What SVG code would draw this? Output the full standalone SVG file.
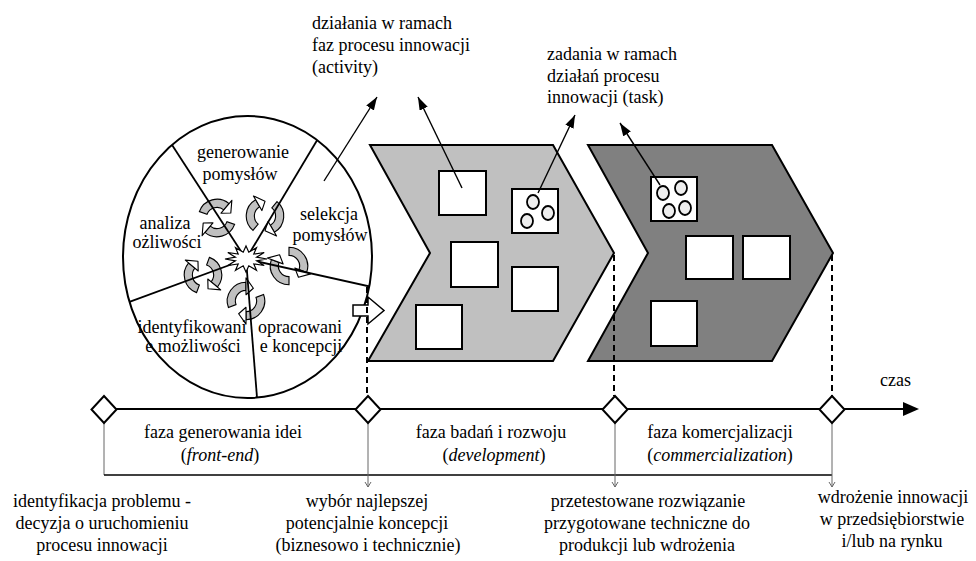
<svg xmlns="http://www.w3.org/2000/svg" width="976" height="561" viewBox="0 0 976 561" font-family="'Liberation Serif', 'DejaVu Serif', 'Times New Roman', serif">
<style>
text{font-family:"Liberation Serif","DejaVu Serif","Times New Roman",serif;font-size:18px;fill:#000}
.c{text-anchor:middle}
.it{font-style:italic}
.chev{stroke:#000;stroke-width:2;stroke-linejoin:miter}
.box{fill:#fff;stroke:#000;stroke-width:2}
.dot{fill:#eee;stroke:#000;stroke-width:1.8}
.dash{stroke:#000;stroke-width:2;stroke-dasharray:6 4;fill:none}
.arr{stroke:#000;stroke-width:1.4;fill:none;marker-end:url(#ah)}
.spoke{stroke:#000;stroke-width:1.8}
.thin{stroke:#666;stroke-width:1;fill:none}
.dia{fill:#fff;stroke:#000;stroke-width:2}
.body{fill:#c0c0c0;stroke:#000;stroke-width:0.9}
.head{fill:#fff;stroke:#000;stroke-width:0.9;stroke-linejoin:round}
</style>
<defs>
<marker id="ah" markerUnits="userSpaceOnUse" markerWidth="14" markerHeight="10" refX="13" refY="4.5" orient="auto">
<path d="M0,0 L13,4.5 L0,9 Z" fill="#000"/>
</marker>
<g id="cyc">
<path class="body" d="M-14.77,-2.6 A15,15 0 0 1 7.5,-12.99 L4.25,-7.36 A8.5,8.5 0 0 0 -8.37,-1.48 Z"/>
<path class="head" d="M9.25,-16.02 L10.18,-5.88 L2.5,-4.33 Z"/>
<path class="body" d="M14.77,2.6 A15,15 0 0 1 -7.5,12.99 L-4.25,7.36 A8.5,8.5 0 0 0 8.37,1.48 Z"/>
<path class="head" d="M-9.25,16.02 L-10.18,5.88 L-2.5,4.33 Z"/>
</g>
<clipPath id="ell"><ellipse cx="247.5" cy="257" rx="124.5" ry="141"/></clipPath>
</defs>

<g id="cycle">
<ellipse cx="247.5" cy="257" rx="124.5" ry="141" fill="#fff" stroke="#000" stroke-width="2"/>
<use href="#cyc" transform="translate(217,218) rotate(10) scale(1.25)"/>
<use href="#cyc" transform="translate(265,216) rotate(-60) scale(1.25)"/>
<use href="#cyc" transform="translate(289,266) rotate(80) scale(1.25)"/>
<use href="#cyc" transform="translate(246,301) rotate(150) scale(1.25)"/>
<use href="#cyc" transform="translate(203,275) rotate(100) scale(1.25)"/>
<g clip-path="url(#ell)">
<line class="spoke" x1="246" y1="259" x2="163" y2="131"/>
<line class="spoke" x1="246" y1="259" x2="322" y2="132"/>
<line class="spoke" x1="246" y1="259" x2="390" y2="291"/>
<line class="spoke" x1="246" y1="259" x2="258" y2="410"/>
<line class="spoke" x1="246" y1="259" x2="110" y2="309"/>
</g>
<polygon points="267,259 256.6,260.8 264.2,265.5 253.8,263.9 256.5,270.3 248.8,265.8 246,272 243.2,265.8 235.5,270.3 238.2,263.9 227.8,265.5 235.4,260.8 225,259 235.4,257.2 227.8,252.5 238.2,254.1 235.5,247.7 243.2,252.2 246,246 248.8,252.2 256.5,247.7 253.8,254.1 264.2,252.5 256.6,257.2" fill="#fff" stroke="#000" stroke-width="1.2"/>
<text class="c" x="243" y="158">generowanie</text>
<text class="c" x="240" y="180">pomysłów</text>
<text class="c" x="165" y="229">analiza</text>
<text class="c" x="167" y="248">ożliwości</text>
<text class="c" x="329" y="220">selekcja</text>
<text class="c" x="330" y="241">pomysłów</text>
<text class="c" x="192" y="333">identyfikowani</text>
<text class="c" x="193" y="352">e możliwości</text>
<text class="c" x="300" y="333">opracowani</text>
<text class="c" x="301" y="352">e koncepcji</text>
</g>

<g id="phase-dev">
<polygon class="chev" points="370,145 553,145 614,253 553,361 368,361 430,253" fill="#c0c0c0"/>
<rect class="box" x="439" y="171" width="47" height="44"/>
<rect class="box" x="512" y="189" width="46" height="44"/>
<ellipse class="dot" cx="533" cy="202" rx="6" ry="7"/>
<ellipse class="dot" cx="548" cy="213" rx="6" ry="7"/>
<ellipse class="dot" cx="527" cy="221" rx="6" ry="7"/>
<rect class="box" x="451" y="242" width="47" height="45"/>
<rect class="box" x="512" y="267" width="46" height="44"/>
<rect class="box" x="416" y="305" width="46" height="44"/>
</g>

<g id="phase-com">
<polygon class="chev" points="588,145 772,145 833,253 772,361 588,361 648,253" fill="#808080"/>
<rect class="box" x="651" y="177" width="46" height="44"/>
<ellipse class="dot" cx="663" cy="193" rx="6" ry="7"/>
<ellipse class="dot" cx="681" cy="188" rx="6" ry="7"/>
<ellipse class="dot" cx="685" cy="208" rx="6" ry="7"/>
<ellipse class="dot" cx="669" cy="211" rx="6" ry="7"/>
<rect class="box" x="686" y="236" width="47" height="43"/>
<rect class="box" x="743" y="236" width="47" height="43"/>
<rect class="box" x="651" y="301" width="46" height="45"/>
</g>

<g id="transfer-arrow">
<path d="M353,305 H368 V297 L384,310.5 L368,324 V316 H353 Z" fill="#fff" stroke="#000" stroke-width="1.5"/>
</g>

<g id="label-activity">
<text x="312" y="29">działania w ramach</text>
<text x="312" y="51">faz procesu innowacji</text>
<text x="312" y="73">(activity)</text>
</g>
<g id="label-task">
<text x="547" y="60">zadania w ramach</text>
<text x="547" y="82">działań procesu</text>
<text x="547" y="103">innowacji (task)</text>
</g>

<g id="timeline">
<line x1="104" y1="409" x2="905" y2="409" stroke="#000" stroke-width="2"/>
<polygon points="903,402 919,409 903,416" fill="#000"/>
<text x="880" y="386">czas</text>
</g>

<g id="connectors">
<line class="arr" x1="324" y1="181" x2="377" y2="97"/>
<line class="arr" x1="462" y1="188" x2="418" y2="97"/>
<line class="arr" x1="538" y1="193" x2="575" y2="115"/>
<line class="arr" x1="660" y1="185" x2="620" y2="123"/>
<line class="dash" x1="367" y1="287" x2="367" y2="396"/>
<line class="dash" x1="614" y1="255" x2="614" y2="396"/>
<line class="dash" x1="832" y1="255" x2="832" y2="396"/>
<line class="thin" x1="104" y1="423" x2="104" y2="475"/>
<line x1="104" y1="475" x2="832" y2="475" stroke="#000" stroke-width="1.3"/>
<line class="thin" x1="368" y1="423" x2="368" y2="487"/>
<polyline class="thin" points="365,482 368,487 371,482"/>
<line class="thin" x1="615" y1="423" x2="615" y2="487"/>
<polyline class="thin" points="612,482 615,487 618,482"/>
<line class="thin" x1="832" y1="423" x2="832" y2="487"/>
<polyline class="thin" points="829,482 832,487 835,482"/>
</g>

<g id="m1"><polygon class="dia" points="104,396 116.5,409.5 104,423 91.5,409.5"/></g>
<g id="m2"><polygon class="dia" points="368,396 380.5,409.5 368,423 355.5,409.5"/></g>
<g id="m3"><polygon class="dia" points="615,396 627.5,409.5 615,423 602.5,409.5"/></g>
<g id="m4"><polygon class="dia" points="832,396 844.5,409.5 832,423 819.5,409.5"/></g>

<g id="phase-labels">
<text class="c" x="223" y="438">faza generowania idei</text>
<text class="c" x="220" y="461">(<tspan class="it">front-end</tspan>)</text>
<text class="c" x="491" y="438">faza badań i rozwoju</text>
<text class="c" x="494" y="461">(<tspan class="it">development</tspan>)</text>
<text class="c" x="720" y="438">faza komercjalizacji</text>
<text class="c" x="720" y="461">(<tspan class="it">commercialization</tspan>)</text>
</g>

<g id="milestone-1">
<text class="c" x="102" y="507">identyfikacja problemu -</text>
<text class="c" x="102" y="529">decyzja o uruchomieniu</text>
<text class="c" x="102" y="551">procesu innowacji</text>
</g>
<g id="milestone-2">
<text class="c" x="367" y="507">wybór najlepszej</text>
<text class="c" x="367" y="529">potencjalnie koncepcji</text>
<text class="c" x="368" y="551">(biznesowo i technicznie)</text>
</g>
<g id="milestone-3">
<text class="c" x="648" y="507">przetestowane rozwiązanie</text>
<text class="c" x="647" y="529">przygotowane techniczne do</text>
<text class="c" x="647" y="551">produkcji lub wdrożenia</text>
</g>
<g id="milestone-4">
<text class="c" x="893" y="503">wdrożenie innowacji</text>
<text class="c" x="892" y="525">w przedsiębiorstwie</text>
<text class="c" x="892" y="547">i/lub na rynku</text>
</g>
</svg>
